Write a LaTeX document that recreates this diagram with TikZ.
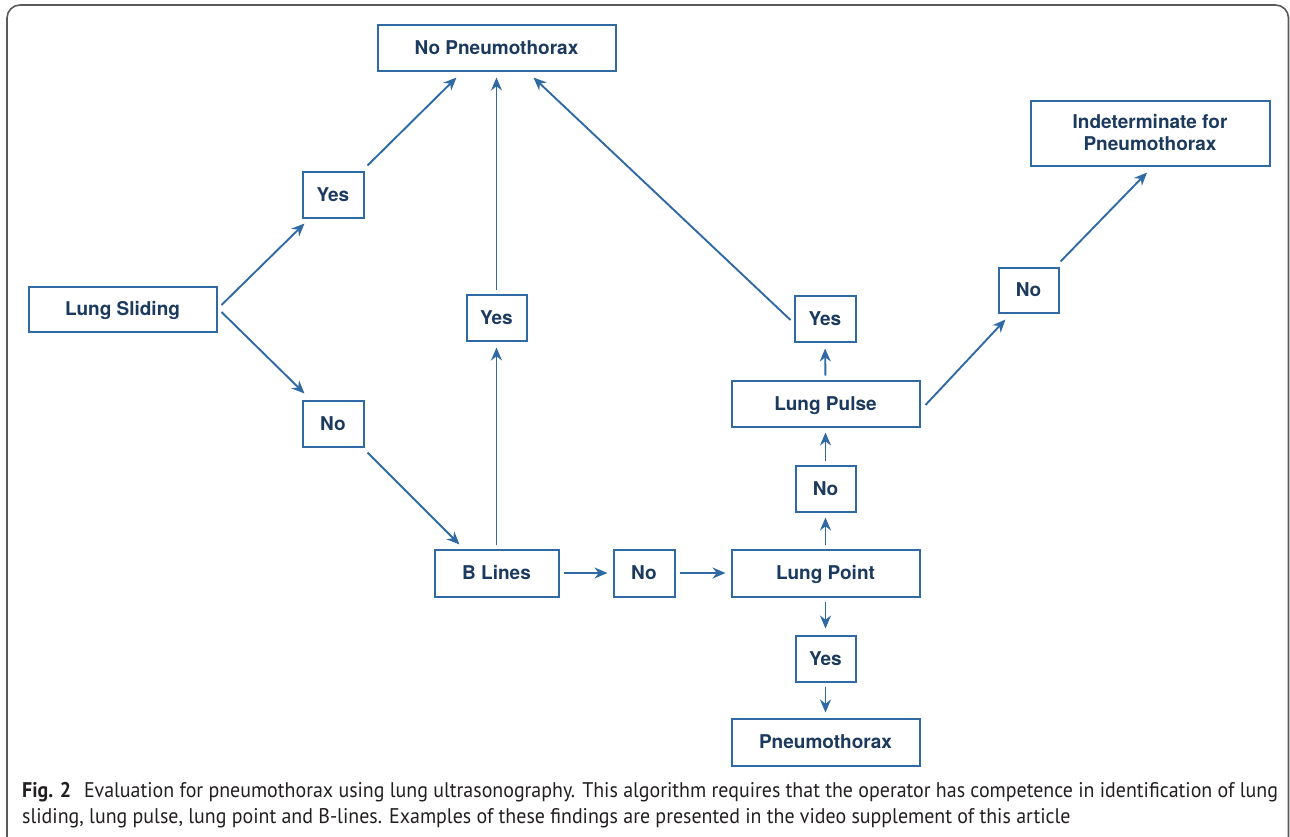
\documentclass[tikz,border=0pt]{standalone}
\usepackage{fontspec}
\setmainfont{TeX Gyre Heros}
\newfontfamily\capfont[FakeStretch=0.94]{PT Sans}
\usetikzlibrary{arrows.meta,calc}
\definecolor{boxblue}{HTML}{2F6AA5}
\definecolor{navy}{HTML}{1B3A5E}
\definecolor{framegray}{HTML}{5A5A5A}
\definecolor{captxt}{HTML}{231F20}
\tikzset{
  box/.style={draw=boxblue, line width=2pt, inner sep=0pt, align=center,
    text=navy, font=\fontsize{19}{22}\selectfont\bfseries,
    text height=13.7pt, text depth=0pt},
  arr/.style={draw=boxblue, line width=1.9pt, -{Stealth[length=13pt,width=11pt]},
    shorten <=4pt, shorten >=5pt},
  capline/.style={anchor=base west, inner sep=0pt, text=captxt,
    font=\capfont\fontsize{21.2}{26}\selectfont}
}
\begin{document}
\begin{tikzpicture}[x=1pt,y=-1pt]
\useasboundingbox (0,0) rectangle (1290,836);
\begin{scope}
\clip (0,0) rectangle (1290,836);
\draw[framegray, line width=1.6pt, rounded corners=13pt] (7,5) rectangle (1288.5,850);
\end{scope}
% nodes
\node[box, minimum width=238pt, minimum height=46pt] (nop) at (496.5,47.5) {No Pneumothorax};
\node[box, minimum width=239pt, minimum height=65pt, text height=35pt] (ind) at (1150,133) {Indeterminate for\\Pneumothorax};
\node[box, minimum width=61pt, minimum height=46pt] (y1) at (333,194.5) {Yes};
\node[box, minimum width=188pt, minimum height=45pt] (ls) at (122.5,309) {Lung Sliding};
\node[box, minimum width=60pt, minimum height=46pt] (y2) at (496.5,317.5) {Yes};
\node[box, minimum width=61pt, minimum height=46pt] (y3) at (825,318.5) {Yes};
\node[box, minimum width=60pt, minimum height=45pt] (n3) at (1028.5,290) {No};
\node[box, minimum width=188pt, minimum height=46pt] (lp) at (825.5,403.5) {Lung Pulse};
\node[box, minimum width=61pt, minimum height=46pt] (n1) at (333,423.5) {No};
\node[box, minimum width=60pt, minimum height=46pt] (n2) at (825.5,488.5) {No};
\node[box, minimum width=124pt, minimum height=47pt] (bl) at (496.5,573) {B Lines};
\node[box, minimum width=61pt, minimum height=47pt] (n4) at (644,573) {No};
\node[box, minimum width=188pt, minimum height=47pt] (lpt) at (825.5,573) {Lung Point};
\node[box, minimum width=60pt, minimum height=46pt] (y4) at (825.5,658.5) {Yes};
\node[box, minimum width=188pt, minimum height=47pt] (px) at (825.5,742) {Pneumothorax};
% connectors
\draw[arr, shorten <=0pt, shorten >=0pt] ($(ls.east)+(4,-4)$) -- ($(y1.south west)+(3,5)$);
\draw[arr, shorten <=0pt, shorten >=0pt] ($(y1.north east)+(3,-5)$) -- ($(nop.south west)+(80,6)$);
\draw[arr, shorten <=0pt, shorten >=0pt] ($(ls.east)+(4,3)$) -- ($(n1.north west)+(3,-6)$);
\draw[arr, shorten <=0pt, shorten >=0pt] ($(n1.south east)+(3,5)$) -- ($(bl.north west)+(26,-4)$);
\draw[arr, shorten >=6pt] (bl.north) -- (y2.south);
\draw[arr, shorten >=6pt] (y2.north) -- (nop.south);
\draw[arr, shorten <=0pt, shorten >=0pt] ($(y3.west)+(-3,1.5)$) -- ($(nop.south east)+(-83,6)$);
\draw[arr, shorten >=6pt] (lp.north) -- (y3.south);
\draw[arr, shorten <=0pt, shorten >=0pt] ($(lp.east)+(5,1.5)$) -- ($(n3.south west)+(8,6)$);
\draw[arr, shorten <=0pt, shorten >=0pt] ($(n3.north east)+(1,-5)$) -- ($(ind.south)+(-3,6)$);
\draw[arr] (bl.east) -- (n4.west);
\draw[arr] (n4.east) -- (lpt.west);
\draw[arr] (lpt.north) -- (n2.south);
\draw[arr] (n2.north) -- (lp.south);
\draw[arr, shorten >=6pt] (lpt.south) -- (y4.north);
\draw[arr] (y4.south) -- (px.north);
% caption
\node[capline] (cap1) at (22,797) {\textbf{Fig. 2}\hspace{0.6em}Evaluation for pneumothorax using lung ultrasonography. This algorithm requires that the operator has competence in identification of lung};
\node[capline] (cap2) at (22,823) {sliding, lung pulse, lung point and B-lines. Examples of these findings are presented in the video supplement of this article};
\end{tikzpicture}
\end{document}
